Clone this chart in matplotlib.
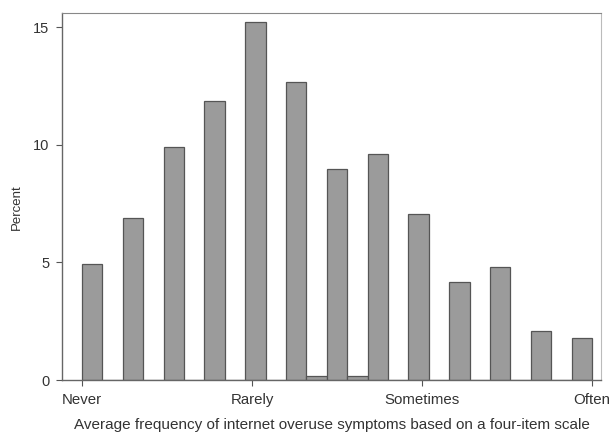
import numpy as np
import matplotlib
matplotlib.use("Agg")
import matplotlib.pyplot as plt

# ---- Histogram data (25 bins over the 1-4 scale) ----
scale_min, scale_max = 1.0, 4.0
n_bins = 25
percent = [4.95, 0, 6.9, 0, 9.9, 0, 11.85, 0, 15.2, 0, 12.65, 0.18, 8.95,
           0.18, 9.6, 0, 7.05, 0, 4.15, 0, 4.8, 0, 2.08, 0, 1.77]
tick_pos = [1, 2, 3, 4]
tick_labels = ["Never", "Rarely", "Sometimes", "Often"]
y_ticks = [0, 5, 10, 15]

plt.rcParams['font.family'] = ['Liberation Sans', 'DejaVu Sans']

edges = np.linspace(scale_min, scale_max, n_bins + 1)
width = edges[1] - edges[0]

fig = plt.figure(figsize=(6.11, 4.36), dpi=100)
ax = fig.add_axes([0.1015, 0.1284, 0.882, 0.8416])

ax.bar(edges[:-1], percent, width=width, align="edge",
       color="#9b9b9b", edgecolor="#555555", linewidth=0.9)

ax.set_xlim(0.882, 4.053)
ax.set_ylim(0, 15.6)
ax.set_xticks(tick_pos)
ax.set_xticklabels(tick_labels, fontsize=10.8, color="#333333")
ax.set_yticks(y_ticks)
ax.set_yticklabels([str(v) for v in y_ticks], fontsize=10.5, color="#333333")
ax.tick_params(axis="both", length=4, width=0.8, color="#555555", pad=5)

for side in ["left", "bottom"]:
    ax.spines[side].set_color("#666666")
    ax.spines[side].set_linewidth(1.0)
ax.spines["top"].set_color("#888888")
ax.spines["right"].set_color("#bbbbbb")

ax.set_xlabel("Average frequency of internet overuse symptoms based on a four-item scale",
              fontsize=11, color="#333333", labelpad=8)
ax.set_ylabel("Percent", fontsize=9.5, color="#333333")
ax.yaxis.set_label_coords(-0.072, 0.47)

fig.savefig("out.png", dpi=100)
